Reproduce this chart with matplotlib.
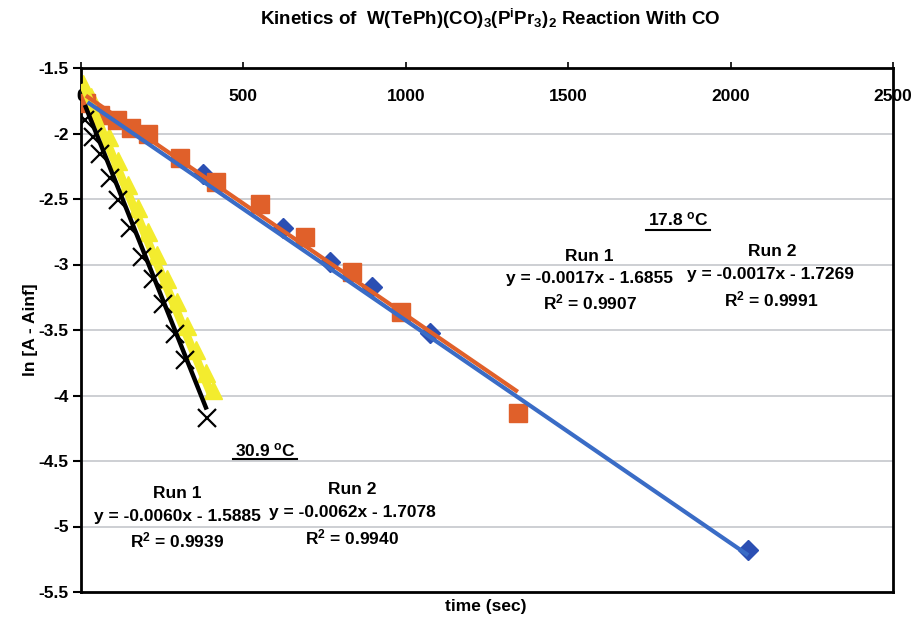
import matplotlib
matplotlib.use("Agg")
import matplotlib.pyplot as plt
import numpy as np

plt.rcParams['font.family'] = ['Liberation Sans', 'DejaVu Sans']
plt.rcParams['font.weight'] = 'bold'
plt.rcParams['mathtext.fontset'] = 'custom'
plt.rcParams['mathtext.rm'] = 'Liberation Sans:bold'
plt.rcParams['mathtext.bf'] = 'Liberation Sans:bold'
plt.rcParams['mathtext.it'] = 'Liberation Sans:bold'
plt.rcParams['mathtext.default'] = 'rm'

# ---- data (17.8 C) ----
t_run1_178 = [15, 60, 110, 155, 205, 305, 415, 550, 690, 835, 985, 1345]
y_run1_178 = [-1.77, -1.86, -1.90, -1.96, -2.00, -2.19, -2.37, -2.54, -2.79, -3.06, -3.36, -4.13]
t_run2_178 = [20, 376, 623, 767, 896, 1073, 2054]
y_run2_178 = [-1.76, -2.31, -2.72, -2.98, -3.17, -3.52, -5.18]
# ---- data (30.9 C) ----
t_run1_309 = [5, 30, 55, 85, 115, 145, 175, 205, 235, 265, 295, 325, 355, 385, 405]
y_run1_309 = [-1.62, -1.72, -1.86, -2.03, -2.21, -2.39, -2.57, -2.75, -2.93, -3.11, -3.29, -3.47, -3.65, -3.83, -3.96]
t_run2_309 = [12, 38, 58, 89, 115, 151, 187, 222, 253, 289, 320, 387]
y_run2_309 = [-1.90, -2.03, -2.16, -2.34, -2.51, -2.72, -2.94, -3.11, -3.30, -3.53, -3.73, -4.17]

# trendline coefficients (slope, intercept) as printed
fit_run1_178 = (-0.0017, -1.6855)
fit_run2_178 = (-0.0017, -1.7269)
fit_run1_309 = (-0.0060, -1.5885)
fit_run2_309 = (-0.0062, -1.7078)

x_ticks = [0, 500, 1000, 1500, 2000, 2500]
y_ticks = [-1.5, -2, -2.5, -3, -3.5, -4, -4.5, -5, -5.5]

W, H = 913, 621
fig = plt.figure(figsize=(W / 100, H / 100), dpi=100)
ax = fig.add_axes([81 / W, 1 - 592 / H, (893 - 81) / W, (592 - 68) / H])

ax.set_xlim(0, 2500)
ax.set_ylim(-5.5, -1.5)

for yv in y_ticks[1:-1]:
    ax.axhline(yv, color='#c9cbd0', lw=1.3, zorder=0)

orange = '#E0602A'
blue_m = '#2B4FB3'
blue_l = '#3A6CC6'
yellow = '#F3EC2E'


def fitline(t, fit):
    tt = np.array([min(t), max(t)], dtype=float)
    return tt, fit[0] * tt + fit[1]


# markers
ax.plot(t_run2_178, y_run2_178, ls='none', marker='D', ms=10, color=blue_m, mec=blue_m, zorder=2)
ax.plot(t_run1_178, y_run1_178, ls='none', marker='s', ms=13.5, color=orange, mec=orange, zorder=3)
ax.plot(t_run1_309, y_run1_309, ls='none', marker='^', ms=13, color=yellow, mec=yellow, zorder=2)

# trendlines
tt, yy = fitline(t_run2_178, fit_run2_178)
ax.plot(tt, yy, color=blue_l, lw=3, zorder=4, solid_capstyle='butt')
tt, yy = fitline(t_run1_178, fit_run1_178)
ax.plot(tt, yy, color=orange, lw=3, zorder=5, solid_capstyle='butt')
tt, yy = fitline(t_run1_309, fit_run1_309)
ax.plot(tt, yy, color=yellow, lw=6, zorder=3, solid_capstyle='butt')

ax.plot(t_run2_309, y_run2_309, ls='none', marker='x', ms=13, mew=1.6, color='black', zorder=4)
tt, yy = fitline(t_run2_309, fit_run2_309)
ax.plot(tt, yy, color='black', lw=3.2, zorder=6, solid_capstyle='butt')

# axes styling
for s in ax.spines.values():
    s.set_linewidth(2)
    s.set_color('black')

ax.set_yticks(y_ticks)
ax.set_yticklabels([('%g' % v) for v in y_ticks])
ax.set_xticks(x_ticks)
ax.set_xticklabels([str(v) for v in x_ticks])
ax.xaxis.tick_top()
ax.tick_params(axis='x', direction='out', length=4, width=1.2, pad=-30, labelsize=12.5)
ax.tick_params(axis='y', direction='out', length=6, width=1.5, pad=3, labelsize=12.5)
for lab in ax.get_xticklabels() + ax.get_yticklabels():
    lab.set_fontweight('bold')

fig.text(30 / W, 1 - 330 / H, 'ln [A - Ainf]', rotation=90, ha='center', va='center',
         fontsize=12.5, fontweight='bold')
fig.text(486 / W, 1 - 607 / H, 'time (sec)', ha='center', va='center', fontsize=12.5, fontweight='bold')
fig.text(490 / W, 1 - 19 / H,
         r'Kinetics of  W(TePh)(CO)$_{3}$(P$^{i}$Pr$_{3}$)$_{2}$ Reaction With CO',
         ha='center', va='center', fontsize=13.5, fontweight='bold')


def ftext(x, y, s, fs=12.5):
    fig.text(x / W, 1 - y / H, s, ha='center', va='center', fontsize=fs, fontweight='bold')


def uline(x0, x1, y):
    fig.add_artist(plt.Line2D([x0 / W, x1 / W], [1 - y / H, 1 - y / H], color='black', lw=1.5))


ftext(678, 219, r'17.8 $^{\mathrm{o}}$C')
uline(646, 710, 229.5)
ftext(589, 256, 'Run 1')
ftext(590, 279, 'y = -0.0017x - 1.6855')
ftext(590, 302, r'R$^{2}$ = 0.9907')
ftext(772, 252, 'Run 2')
ftext(770, 274, 'y = -0.0017x - 1.7269')
ftext(771, 299, r'R$^{2}$ = 0.9991')

ftext(265, 450, r'30.9 $^{\mathrm{o}}$C')
uline(233, 297, 458.5)
ftext(177, 494, 'Run 1')
ftext(177, 516, 'y = -0.0060x - 1.5885')
ftext(177, 540, r'R$^{2}$ = 0.9939')
ftext(352, 490, 'Run 2')
ftext(352, 512, 'y = -0.0062x - 1.7078')
ftext(352, 537, r'R$^{2}$ = 0.9940')

fig.savefig('out.png', dpi=100)
